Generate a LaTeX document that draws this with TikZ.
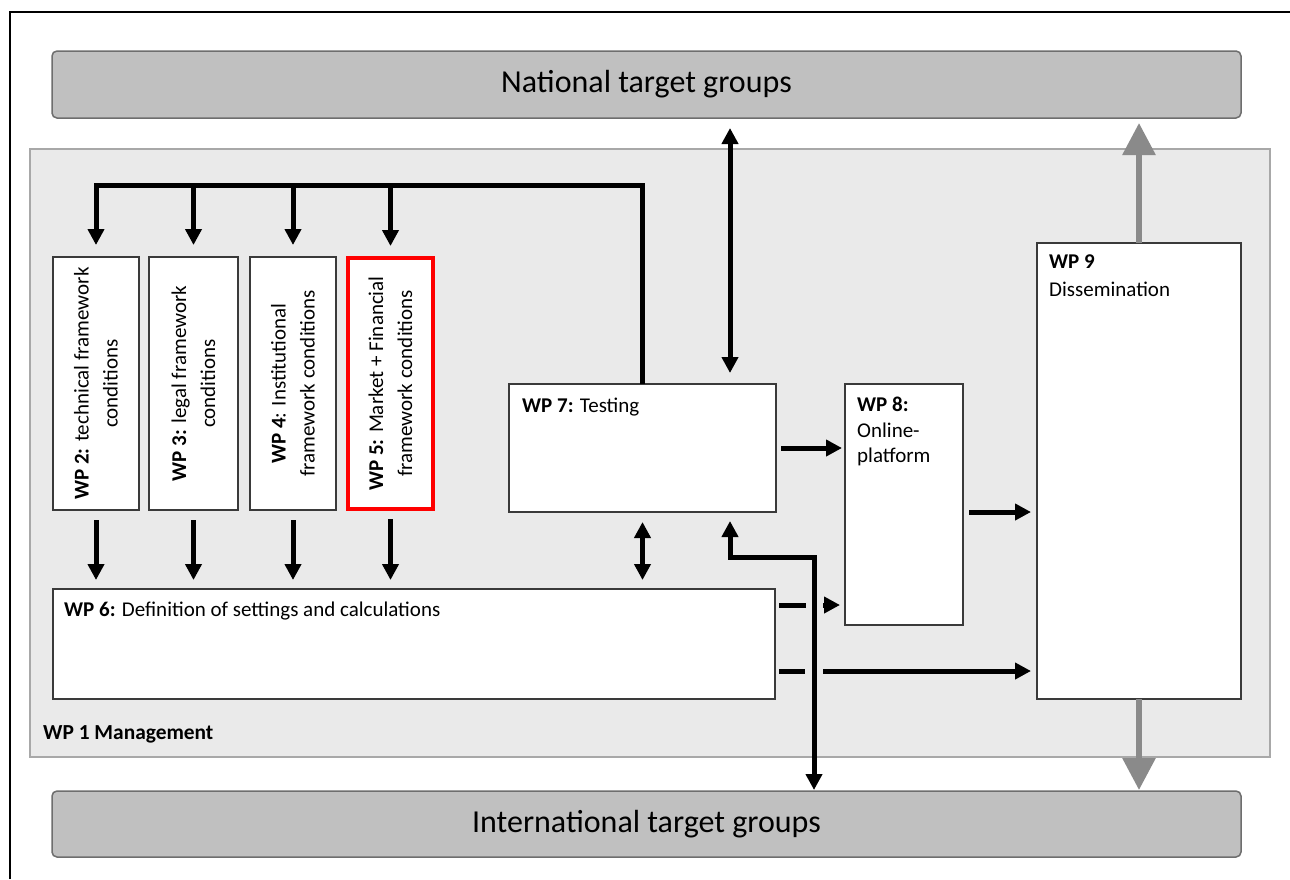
\documentclass[tikz,border=0pt]{standalone}
\usepackage{fontspec}
\setmainfont{Carlito}
\usetikzlibrary{arrows.meta}
\definecolor{tgfill}{HTML}{C0C0C0}
\definecolor{tgdraw}{HTML}{6E6E6E}
\definecolor{mgmt}{HTML}{EAEAEA}
\definecolor{mgmtdraw}{HTML}{A8A8A8}
\definecolor{boxdraw}{HTML}{3A3A3A}
\definecolor{garrow}{HTML}{8A8A8A}
\begin{document}
\begin{tikzpicture}[x=1pt,y=-1pt,
  wpbox/.style={draw=boxdraw, fill=white, line width=1.3pt, inner sep=0pt, outer sep=0pt, anchor=north west},
  tgbox/.style={draw=tgdraw, fill=tgfill, line width=1.5pt, rounded corners=5pt, inner sep=0pt, outer sep=0pt, anchor=north west, font=\fontsize{32}{38}\selectfont},
  mgbox/.style={draw=mgmtdraw, fill=mgmt, line width=1.2pt, inner sep=0pt, outer sep=0pt, anchor=north west},
  lbl/.style={anchor=base west, inner sep=0pt, font=\fontsize{21}{25}\selectfont},
  rlbl/.style={rotate=90, align=center, inner sep=0pt, font=\fontsize{21}{29}\selectfont},
  arr/.style={line width=5pt, -{Triangle[length=16pt,width=16pt]}},
  darr/.style={line width=5pt, {Triangle[length=16pt,width=16pt]}-{Triangle[length=16pt,width=16pt]}},
  garr/.style={draw=garrow, line width=6pt, -{Triangle[length=32pt,width=32pt]}},
  gapmask/.style={fill=mgmt},
]
\useasboundingbox (0,0) rectangle (1290,879);
\fill[white] (0,0) rectangle (1290,879);
% outer frame (cropped)
\draw[line width=1.5pt] (10,879) -- (10,12) -- (1290,12);

% boxes
\node[tgbox, minimum width=1189pt, minimum height=67pt] (nat) at (52,51) {National target groups};
\node[mgbox, minimum width=1240pt, minimum height=608pt] (wp1) at (30,149) {};
\node[tgbox, minimum width=1189pt, minimum height=66pt] (intl) at (52,791) {International target groups};

\node[wpbox, minimum width=86pt, minimum height=253pt] (wp2) at (53,257) {};
\node[wpbox, minimum width=89pt, minimum height=253pt] (wp3) at (149,257) {};
\node[wpbox, minimum width=86pt, minimum height=253pt] (wp4) at (250,257) {};
\node[wpbox, draw=red, line width=4pt, minimum width=85pt, minimum height=251pt] (wp5) at (348,258) {};
\node[wpbox, minimum width=722pt, minimum height=110pt] (wp6) at (53,589) {};
\node[wpbox, minimum width=267pt, minimum height=128pt] (wp7) at (509,384) {};
\node[wpbox, minimum width=118pt, minimum height=241pt] (wp8) at (845,384) {};
\node[wpbox, minimum width=204pt, minimum height=456pt] (wp9) at (1037,243) {};

% texts
\node[rlbl] (wp2t) at (wp2.center) {\textbf{WP 2:} technical framework\\conditions};
\node[rlbl] (wp3t) at (wp3.center) {\textbf{WP 3:} legal framework\\conditions};
\node[rlbl] (wp4t) at (wp4.center) {\textbf{WP 4}: Institutional\\framework conditions};
\node[rlbl] (wp5t) at (wp5.center) {\textbf{WP 5:} Market + Financial\\framework conditions};
\node[lbl] (wp6t) at (64,616) {\textbf{WP 6:} Definition of settings and calculations};
\node[lbl] (wp7t) at (522,412) {\textbf{WP 7:} Testing};
\node[lbl] (wp8a) at (857,411) {\textbf{WP 8:}};
\node[lbl] (wp8b) at (857,437) {Online-};
\node[lbl] (wp8c) at (857,462) {platform};
\node[lbl] (wp9a) at (1049,268) {\textbf{WP 9}};
\node[lbl] (wp9b) at (1049,296) {Dissemination};
\node[lbl, font=\fontsize{21.4}{25}\selectfont\bfseries] (wp1t) at (43,739) {WP 1 Management};

% helper coordinates
\coordinate (bus) at (0,185);
\coordinate (xa) at (730,0);
\coordinate (jog) at (814,557);

% bus from WP7 to WP2..WP5
\draw[arr, shorten >=12pt] (wp7.north) |- (bus -| wp2.north) -- (wp2.north);
\draw[arr, shorten >=12pt] (bus -| wp3.north) -- (wp3.north);
\draw[arr, shorten >=12pt] (bus -| wp4.north) -- (wp4.north);
\draw[arr, shorten >=12pt] (bus -| wp5.north) -- (wp5.north);

% WP2..5 -> WP6
\draw[arr, shorten <=10pt, shorten >=9pt] (wp2.south) -- (wp2.south |- wp6.north);
\draw[arr, shorten <=10pt, shorten >=9pt] (wp3.south) -- (wp3.south |- wp6.north);
\draw[arr, shorten <=10pt, shorten >=9pt] (wp4.south) -- (wp4.south |- wp6.north);
\draw[arr, shorten <=10pt, shorten >=9pt] (wp5.south) -- (wp5.south |- wp6.north);

% National <-> WP7
\draw[darr, shorten <=11pt, shorten >=10pt] (wp7.north -| xa) -- (nat.south -| xa);
% WP7 <-> WP6
\draw[darr, shorten <=10pt, shorten >=9pt] (wp7.south) -- (wp7.south |- wp6.north);

% horizontal arrows
\draw[arr, shorten <=5pt, shorten >=3pt] (wp7.east) -- (wp7.east -| wp8.west);
\draw[arr, shorten <=6pt, shorten >=6pt] ([yshift=-7.5pt]wp8.east) -- ([yshift=-7.5pt]wp8.east -| wp9.west);
\draw[arr, shorten <=4pt, shorten >=5pt] ([yshift=39pt]wp6.east) -- ([yshift=39pt]wp6.east -| wp8.west);
\draw[arr, shorten <=4pt, shorten >=6pt] ([yshift=-27pt]wp6.east) -- ([yshift=-27pt]wp6.east -| wp9.west);
% line-jump gaps
\fill[gapmask] (806,599) rectangle (823,611);
\fill[gapmask] (805,665) rectangle (823,677);

% WP7 <-> International
\draw[darr, shorten <=9pt, shorten >=1pt] (wp7.south -| xa) |- (jog) -- (jog |- intl.north);

% WP9 dissemination (grey)
\draw[garr, shorten >=5pt] (wp9.north) -- (wp9.north |- nat.south);
\draw[garr, shorten >=1pt] (wp9.south) -- (wp9.south |- intl.north);
\end{tikzpicture}
\end{document}
